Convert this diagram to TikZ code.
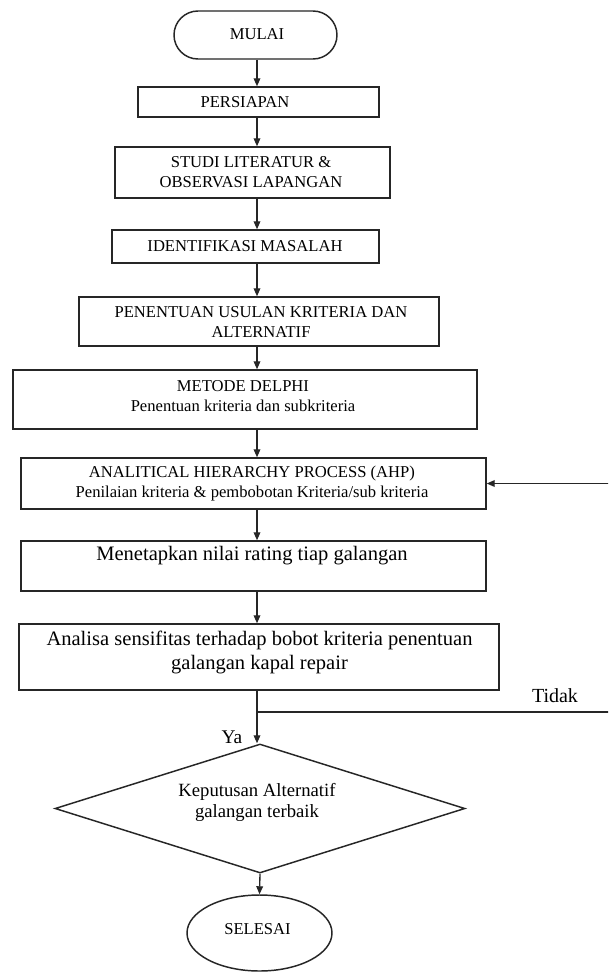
\documentclass[tikz,border=0pt]{standalone}
\usepackage{fontspec}
\setmainfont{Liberation Serif}
\usetikzlibrary{arrows.meta,shapes.geometric,shapes.misc}
\begin{document}
\begin{tikzpicture}[x=0.75pt,y=-0.75pt,
  box/.style={draw=black!85,line width=1.1pt,inner sep=0pt},
  txt/.style={inner sep=0pt,align=center,font=\fontsize{12.45}{15}\selectfont},
  big/.style={inner sep=0pt,align=center,font=\fontsize{15.4}{17.3}\selectfont},
  arr/.style={draw=black!85,line width=1pt,-{Triangle[length=6pt,width=5pt]}},
]
\clip (0,0) rectangle (608,972);
\fill[white] (0,0) rectangle (608,972);

% main axis of the flow
\coordinate (axis) at (257,0);

% start
\node[box,rounded rectangle,minimum width=122.25pt,minimum height=36pt] (mulai) at (255.5,35) {};
\node[txt] (mulai-t) at (257,34) {MULAI};

% process steps
\node[box,minimum width=180.75pt,minimum height=22.5pt] (persiapan) at (258.5,102) {};
\node[txt] (persiapan-t) at (245,102) {PERSIAPAN};

\node[box,minimum width=206.25pt,minimum height=38.25pt] (studi) at (252.5,172.5) {};
\node[txt] (studi-t) at (251,172) {STUDI LITERATUR \&\\OBSERVASI LAPANGAN};

\node[box,minimum width=200.25pt,minimum height=24.75pt] (ident) at (245.5,246.5) {};
\node[txt] (ident-t) at (245,246) {IDENTIFIKASI MASALAH};

\node[box,minimum width=270pt,minimum height=36.75pt] (penentuan) at (259,321.5) {};
\node[txt] (penentuan-t) at (261,322) {PENENTUAN USULAN KRITERIA DAN\\ALTERNATIF};

\node[box,minimum width=348pt,minimum height=44.25pt] (metode) at (245,399.5) {};
\node[txt] (metode-t) at (243,396) {METODE DELPHI\\Penentuan kriteria dan subkriteria};

\node[box,minimum width=348.75pt,minimum height=38.25pt] (ahp) at (253.5,483.5) {};
\node[txt] (ahp-t) at (252,483) {ANALITICAL HIERARCHY PROCESS (AHP)\\Penilaian kriteria \& pembobotan Kriteria/sub kriteria};

\node[box,minimum width=348.75pt,minimum height=37.5pt] (menetapkan) at (253.5,566) {};
\node[big] (menetapkan-t) at (252,556) {Menetapkan nilai rating tiap galangan};

\node[box,minimum width=360pt,minimum height=49.5pt] (analisa) at (259,657) {};
\node[big] (analisa-t) at (259.5,652.5) {Analisa sensifitas terhadap bobot kriteria penentuan\\galangan kapal repair};

% decision
\node[box,diamond,minimum width=307.5pt,minimum height=96.75pt] (keputusan) at (260,808.5) {};
\node[inner sep=0pt,align=center,font=\fontsize{14}{15.75}\selectfont] (keputusan-t) at (257,802.5) {Keputusan Alternatif\\galangan terbaik};

% end
\node[box,ellipse,minimum width=108.75pt,minimum height=57pt] (selesai) at (259.5,933) {};
\node[txt] (selesai-t) at (257.5,929) {SELESAI};

% branch labels
\node[inner sep=0pt,font=\fontsize{15}{17}\selectfont] (tidak) at (555,696) {Tidak};
\node[inner sep=0pt,font=\fontsize{14.5}{17}\selectfont] (ya) at (232,737) {Ya};

% connectors
\draw[arr] (mulai.south -| axis) -- (persiapan.north -| axis);
\draw[arr] (persiapan.south -| axis) -- (studi.north -| axis);
\draw[arr] (studi.south -| axis) -- (ident.north -| axis);
\draw[arr] (ident.south -| axis) -- (penentuan.north -| axis);
\draw[arr] (penentuan.south -| axis) -- (metode.north -| axis);
\draw[arr] (metode.south -| axis) -- (ahp.north -| axis);
\draw[arr] (ahp.south -| axis) -- (menetapkan.north -| axis);
\draw[arr] (menetapkan.south -| axis) -- (analisa.north -| axis);
\draw[arr] (analisa.south -| axis) -- (keputusan.north -| axis);
\draw[arr] (keputusan.south) -- (selesai.north);

% feedback loop when the result is rejected
\coordinate (split) at (257,712);
\coordinate (outer) at (625,712);
\draw[arr] (split) -- (outer) |- (ahp.east);
\end{tikzpicture}
\end{document}
